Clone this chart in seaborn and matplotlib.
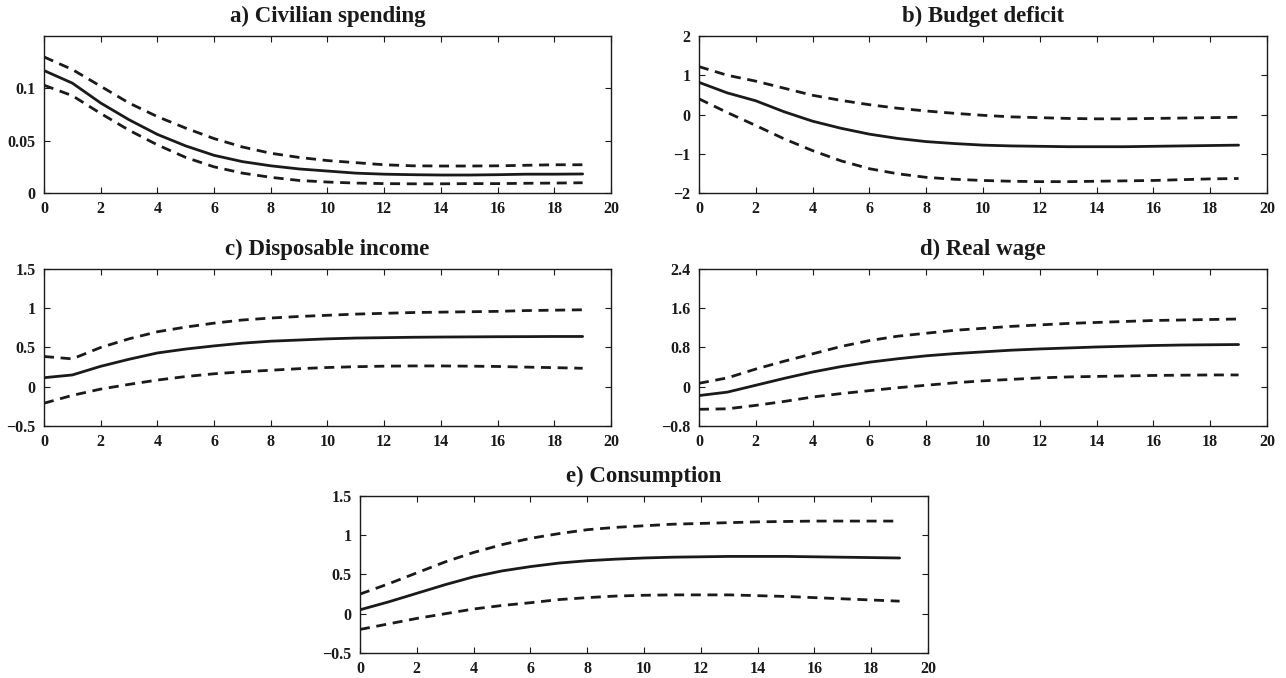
import numpy as np
import pandas as pd
import matplotlib
matplotlib.use("Agg")
import matplotlib.pyplot as plt
import seaborn as sns

# horizon (quarters)
steps = list(range(20))

titles = ["a) Civilian spending", "b) Budget deficit", "c) Disposable income",
          "d) Real wage", "e) Consumption"]

# a) civilian spending
a_mid = [0.117, 0.105, 0.086, 0.070, 0.056, 0.045, 0.036, 0.030, 0.026, 0.023,
         0.021, 0.019, 0.018, 0.0175, 0.0172, 0.0172, 0.0175, 0.018, 0.018, 0.0182]
a_up = [0.130, 0.118, 0.102, 0.086, 0.073, 0.062, 0.052, 0.044, 0.038, 0.034,
        0.031, 0.029, 0.027, 0.026, 0.0258, 0.0258, 0.026, 0.0265, 0.027, 0.027]
a_lo = [0.103, 0.093, 0.076, 0.060, 0.046, 0.034, 0.025, 0.019, 0.015, 0.012,
        0.0105, 0.0095, 0.009, 0.0088, 0.0088, 0.009, 0.009, 0.0093, 0.0095, 0.0098]

# b) budget deficit
b_mid = [0.82, 0.55, 0.35, 0.07, -0.17, -0.35, -0.50, -0.61, -0.69, -0.74,
         -0.78, -0.80, -0.81, -0.82, -0.82, -0.82, -0.81, -0.80, -0.79, -0.78]
b_up = [1.22, 1.00, 0.85, 0.67, 0.49, 0.36, 0.25, 0.16, 0.09, 0.03,
        -0.02, -0.06, -0.08, -0.10, -0.11, -0.11, -0.10, -0.09, -0.08, -0.07]
b_lo = [0.40, 0.05, -0.28, -0.62, -0.92, -1.18, -1.38, -1.51, -1.60, -1.65,
        -1.68, -1.70, -1.71, -1.71, -1.70, -1.69, -1.68, -1.66, -1.64, -1.63]

# c) disposable income
c_mid = [0.115, 0.15, 0.26, 0.35, 0.43, 0.48, 0.52, 0.555, 0.58, 0.595,
         0.61, 0.62, 0.625, 0.63, 0.633, 0.635, 0.637, 0.638, 0.64, 0.64]
c_up = [0.385, 0.355, 0.50, 0.61, 0.70, 0.76, 0.81, 0.85, 0.875, 0.895,
        0.91, 0.925, 0.935, 0.945, 0.95, 0.955, 0.96, 0.97, 0.975, 0.98]
c_lo = [-0.21, -0.11, -0.03, 0.03, 0.085, 0.13, 0.165, 0.19, 0.21, 0.23,
        0.245, 0.255, 0.262, 0.265, 0.265, 0.262, 0.258, 0.25, 0.243, 0.235]

# d) real wage
d_mid = [-0.18, -0.11, 0.03, 0.17, 0.30, 0.41, 0.50, 0.57, 0.63, 0.675,
         0.71, 0.745, 0.77, 0.79, 0.81, 0.825, 0.84, 0.85, 0.855, 0.86]
d_up = [0.07, 0.18, 0.36, 0.52, 0.67, 0.82, 0.94, 1.03, 1.09, 1.15,
        1.19, 1.23, 1.26, 1.29, 1.31, 1.33, 1.35, 1.36, 1.37, 1.38]
d_lo = [-0.46, -0.45, -0.38, -0.30, -0.21, -0.14, -0.08, -0.02, 0.03, 0.08,
        0.12, 0.15, 0.18, 0.20, 0.21, 0.22, 0.23, 0.235, 0.24, 0.24]

# e) consumption
e_mid = [0.05, 0.15, 0.26, 0.37, 0.47, 0.545, 0.60, 0.645, 0.675, 0.695,
         0.71, 0.72, 0.725, 0.73, 0.73, 0.73, 0.725, 0.72, 0.715, 0.71]
e_up = [0.25, 0.38, 0.52, 0.66, 0.78, 0.88, 0.96, 1.02, 1.07, 1.10,
        1.12, 1.14, 1.15, 1.16, 1.17, 1.175, 1.18, 1.18, 1.18, 1.18]
e_lo = [-0.20, -0.13, -0.06, 0.00, 0.06, 0.105, 0.14, 0.18, 0.205, 0.225,
        0.235, 0.24, 0.24, 0.24, 0.23, 0.22, 0.205, 0.19, 0.175, 0.16]

series = [(a_mid, a_up, a_lo), (b_mid, b_up, b_lo), (c_mid, c_up, c_lo),
          (d_mid, d_up, d_lo), (e_mid, e_up, e_lo)]

y_ticks = [[0, 0.05, 0.1], [-2, -1, 0, 1, 2], [-0.5, 0, 0.5, 1, 1.5],
           [-0.8, 0, 0.8, 1.6, 2.4], [-0.5, 0, 0.5, 1, 1.5]]
y_labels = [["0", "0.05", "0.1"], ["\u22122", "\u22121", "0", "1", "2"],
            ["\u22120.5", "0", "0.5", "1", "1.5"],
            ["\u22120.8", "0", "0.8", "1.6", "2.4"],
            ["\u22120.5", "0", "0.5", "1", "1.5"]]
y_lims = [(0, 0.15), (-2, 2), (-0.5, 1.5), (-0.8, 2.4), (-0.5, 1.5)]
x_ticks = list(range(0, 21, 2))

sns.set_style("ticks")
plt.rcParams['font.family'] = ['Liberation Serif', 'DejaVu Serif']
plt.rcParams['font.weight'] = 'bold'

fig = plt.figure(figsize=(12.86, 6.78), dpi=100)
positions = [
    [0.0342, 0.7153, 0.4409, 0.2316],
    [0.5435, 0.7153, 0.4417, 0.2316],
    [0.0342, 0.3717, 0.4409, 0.2316],
    [0.5435, 0.3717, 0.4417, 0.2316],
    [0.2799, 0.0369, 0.4417, 0.2316],
]

ink = "#1a1a1a"
for i, pos in enumerate(positions):
    ax = fig.add_axes(pos)
    mid, up, lo = series[i]
    sns.lineplot(x=steps, y=mid, ax=ax, color=ink, linewidth=2.0)
    sns.lineplot(x=steps, y=up, ax=ax, color=ink, linewidth=2.0,
                 linestyle=(0, (3.6, 2.4)))
    sns.lineplot(x=steps, y=lo, ax=ax, color=ink, linewidth=2.0,
                 linestyle=(0, (3.6, 2.4)))
    ax.set_xlim(0, 20)
    ax.set_ylim(*y_lims[i])
    ax.set_xticks(x_ticks)
    ax.set_xticklabels([str(t) for t in x_ticks], fontweight='bold', fontsize=11.5)
    ax.set_yticks(y_ticks[i])
    ax.set_yticklabels(y_labels[i], fontweight='bold', fontsize=11.5)
    ax.tick_params(direction='in', top=True, right=True, length=4, width=0.8,
                   colors=ink)
    ax.tick_params(axis='x', pad=6)
    ax.tick_params(axis='y', pad=6)
    for s in ax.spines.values():
        s.set_linewidth(1.0)
        s.set_color(ink)
    ax.set_title(titles[i], fontweight='bold', fontsize=16.5, pad=10, color=ink)
    ax.set_xlabel("")
    ax.set_ylabel("")

plt.savefig("out.png", dpi=100)
